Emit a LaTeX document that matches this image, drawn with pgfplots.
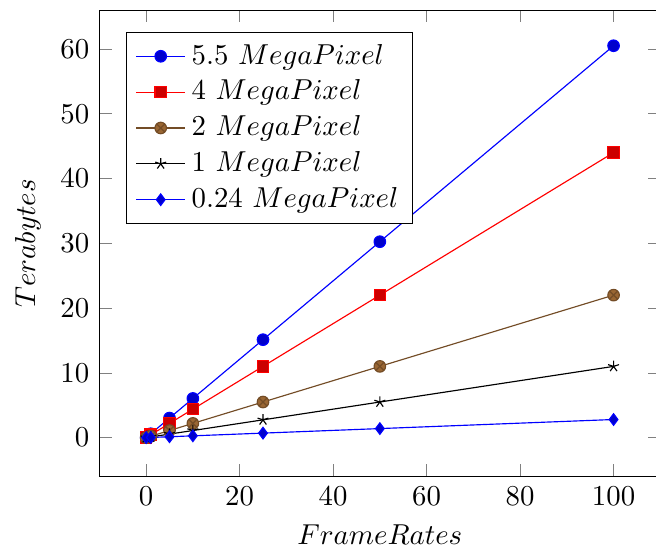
\documentclass[border=0pt]{standalone}
\usepackage{pgfplots}
\pgfplotsset{compat=1.18}
\usetikzlibrary{calc}
\begin{document}
\begin{tikzpicture}
\begin{axis}[
  name=ax,
  scale only axis,
  width=194.7pt, height=161.9pt,
  xmin=-10, xmax=110,
  ymin=-6, ymax=66,
  ytick distance=10,
  xlabel={$FrameRates$},
  ylabel={$Terabytes$},
  legend style={at={(0.048,0.953)}, anchor=north west},
  legend cell align=left,
]
\addplot coordinates {(0,0) (1,0.605) (5,3.025) (10,6.05) (25,15.125) (50,30.25) (100,60.5)};
\addlegendentry{5.5 $MegaPixel$}
\addplot coordinates {(0,0) (1,0.44) (5,2.2) (10,4.4) (25,11) (50,22) (100,44)};
\addlegendentry{4 $MegaPixel$}
\addplot coordinates {(0,0) (1,0.22) (5,1.1) (10,2.2) (25,5.5) (50,11) (100,22)};
\addlegendentry{2 $MegaPixel$}
\addplot coordinates {(0,0) (1,0.11) (5,0.55) (10,1.1) (25,2.75) (50,5.5) (100,11)};
\addlegendentry{1 $MegaPixel$}
\addplot coordinates {(0,0) (1,0.028) (5,0.14) (10,0.28) (25,0.7) (50,1.4) (100,2.8)};
\addlegendentry{0.24 $MegaPixel$}
\end{axis}
\pgfresetboundingbox
\path[use as bounding box] ($(ax.south west)+(-34.5pt,-25.1pt)$) rectangle ($(ax.south west)+(193.2pt,165.4pt)$);
\end{tikzpicture}
\end{document}
